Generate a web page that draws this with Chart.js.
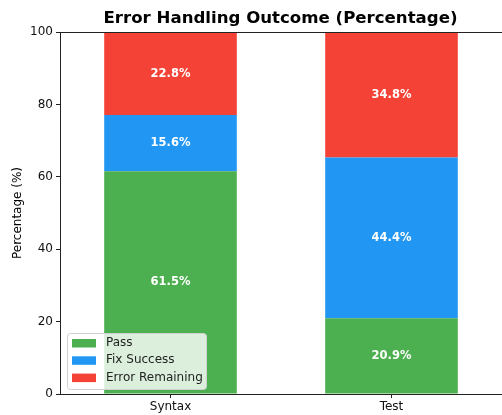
<!DOCTYPE html>
<html lang="en">
<head>
<meta charset="UTF-8">
<title>Error Handling Outcome (Percentage)</title>
<script src="https://cdn.jsdelivr.net/npm/chart.js"></script>
<style>
  body { margin: 0; background: #fff; }
  #wrap { width: 502px; height: 415px; }
</style>
</head>
<body>
<div id="wrap"><canvas id="chart" width="502" height="415"></canvas></div>
<script>
// chart data
const categories = ['Syntax', 'Test'];
const seriesNames = ['Pass', 'Fix Success', 'Error Remaining'];
const passValues = [61.5, 20.9];
const fixValues = [15.6, 44.4];
const errorValues = [22.8, 34.8];
const yTicks = [0, 20, 40, 60, 80, 100];

const colors = ['#4CAF50', '#2196F3', '#F44336'];
const FONT = "'DejaVu Sans', sans-serif";

// title, y label, top spine, bar labels and legend box
const extras = {
  id: 'extras',
  afterDatasetsDraw(chart) {
    const ctx = chart.ctx;
    const area = chart.chartArea;
    ctx.save();

    // top spine
    ctx.strokeStyle = '#222';
    ctx.lineWidth = 1;
    ctx.beginPath();
    ctx.moveTo(area.left, area.top + 0.5);
    ctx.lineTo(area.right, area.top + 0.5);
    ctx.stroke();

    // value labels inside segments
    ctx.fillStyle = '#fff';
    ctx.font = 'bold 11.5px ' + FONT;
    ctx.textAlign = 'center';
    ctx.textBaseline = 'middle';
    chart.data.datasets.forEach((ds, i) => {
      chart.getDatasetMeta(i).data.forEach((bar, j) => {
        const mid = (bar.y + bar.base) / 2;
        ctx.fillText(ds.data[j].toFixed(1) + '%', bar.x, mid);
      });
    });

    // title
    ctx.fillStyle = '#000';
    ctx.font = 'bold 16.6px ' + FONT;
    ctx.fillText('Error Handling Outcome (Percentage)', (area.left + area.right) / 2 - 0.5, 19);

    // y axis title
    ctx.font = '12px ' + FONT;
    ctx.translate(18, (area.top + area.bottom) / 2);
    ctx.rotate(-Math.PI / 2);
    ctx.fillText('Percentage (%)', 0, 0);
    ctx.restore();

    // legend (lower left inside plot)
    ctx.save();
    const lx = area.left + 7, ly = area.bottom - 61, lw = 139, lh = 56;
    ctx.fillStyle = 'rgba(255,255,255,0.8)';
    ctx.strokeStyle = '#d0d0d0';
    ctx.lineWidth = 1;
    ctx.beginPath();
    ctx.roundRect(lx + 0.5, ly + 0.5, lw, lh, 3);
    ctx.fill();
    ctx.stroke();
    ctx.font = '12px ' + FONT;
    ctx.textAlign = 'left';
    ctx.textBaseline = 'middle';
    chart.data.datasets.forEach((ds, i) => {
      const cy = ly + 10 + i * 17.3;
      ctx.fillStyle = ds.backgroundColor;
      ctx.fillRect(lx + 5, cy - 4, 24, 8.5);
      ctx.fillStyle = '#222';
      ctx.fillText(ds.label, lx + 39, cy);
    });
    ctx.restore();
  }
};

new Chart(document.getElementById('chart'), {
  type: 'bar',
  data: {
    labels: categories,
    datasets: [
      { label: seriesNames[0], data: passValues, backgroundColor: colors[0] },
      { label: seriesNames[1], data: fixValues, backgroundColor: colors[1] },
      { label: seriesNames[2], data: errorValues, backgroundColor: colors[2] }
    ].map(d => Object.assign(d, { barPercentage: 0.6, categoryPercentage: 1.0, borderWidth: 0 }))
  },
  options: {
    responsive: false,
    animation: false,
    devicePixelRatio: 1,
    layout: { padding: { top: 32, left: 0, right: -1, bottom: 0 } },
    plugins: {
      legend: { display: false },
      tooltip: { enabled: false }
    },
    scales: {
      x: {
        stacked: true,
        afterFit(scale) { scale.height = 21; },
        grid: { drawOnChartArea: false, tickLength: 4, color: '#222', offset: false },
        border: { color: '#222', width: 1 },
        ticks: { color: '#111', font: { family: FONT, size: 12 }, padding: 2 }
      },
      y: {
        stacked: true,
        min: 0,
        max: 100,
        afterFit(scale) { scale.width = 60; },
        afterBuildTicks(scale) { scale.ticks = yTicks.map(v => ({ value: v })); },
        grid: { drawOnChartArea: false, tickLength: 4, color: '#222' },
        border: { color: '#222', width: 1 },
        ticks: { color: '#111', font: { family: FONT, size: 12 }, padding: 3 }
      }
    }
  },
  plugins: [extras]
});
</script>
</body>
</html>
